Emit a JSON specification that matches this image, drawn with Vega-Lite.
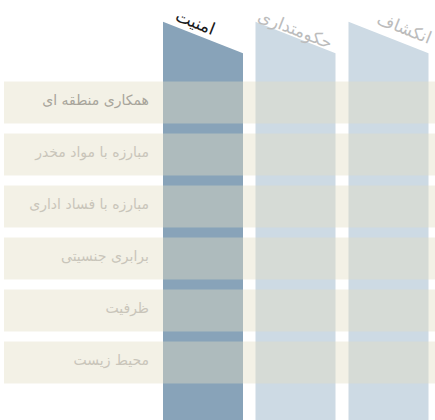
{
  "$schema": "https://vega.github.io/schema/vega-lite/v6.json",
  "width": 435,
  "height": 420,
  "autosize": {"type": "fit", "contains": "padding"},
  "padding": 0,
  "background": "white",
  "config": {"view": {"stroke": null}},
  "resolve": {"scale": {"color": "independent"}},
  "datasets": {
    "columns": [
      {"col": "امنیت", "x": 163, "top": 21.7, "bottom": 420},
      {"col": "امنیت", "x": 243, "top": 53.3, "bottom": 420},
      {"col": "حکومتداری", "x": 255.5, "top": 21.7, "bottom": 420},
      {"col": "حکومتداری", "x": 335.5, "top": 53.3, "bottom": 420},
      {"col": "انکشاف", "x": 348.5, "top": 21.7, "bottom": 420},
      {"col": "انکشاف", "x": 428.5, "top": 53.3, "bottom": 420}
    ],
    "colLabels": [
      {"col": "امنیت", "x": 195, "y": 23, "tone": "active"},
      {"col": "حکومتداری", "x": 295, "y": 30, "tone": "inactive"},
      {"col": "انکشاف", "x": 404, "y": 29, "tone": "inactive"}
    ],
    "rows": [
      {"label": "همکاری منطقه ای", "top": 81.5, "bottom": 123.5, "mid": 102.5, "left": 4, "right": 435, "lx": 149, "tone": "strong"},
      {"label": "مبارزه با مواد مخدر", "top": 133.5, "bottom": 175.5, "mid": 154.5, "left": 4, "right": 435, "lx": 149, "tone": "muted"},
      {"label": "مبارزه با فساد اداری", "top": 185.5, "bottom": 227.5, "mid": 206.5, "left": 4, "right": 435, "lx": 149, "tone": "muted"},
      {"label": "برابری جنسیتی", "top": 237.5, "bottom": 279.5, "mid": 258.5, "left": 4, "right": 435, "lx": 149, "tone": "muted"},
      {"label": "ظرفیت", "top": 289.5, "bottom": 331.5, "mid": 310.5, "left": 4, "right": 435, "lx": 149, "tone": "muted"},
      {"label": "محیط زیست", "top": 341.5, "bottom": 383.5, "mid": 362.5, "left": 4, "right": 435, "lx": 149, "tone": "muted"}
    ]
  },
  "layer": [
    {
      "data": {"name": "columns"},
      "mark": {"type": "area", "interpolate": "linear"},
      "encoding": {
        "x": {"field": "x", "type": "quantitative", "scale": {"domain": [0, 435], "nice": false, "zero": false}, "axis": null},
        "y": {"field": "top", "type": "quantitative", "stack": null, "scale": {"domain": [0, 420], "reverse": true, "nice": false, "zero": false}, "axis": null},
        "y2": {"field": "bottom"},
        "detail": {"field": "col"},
        "color": {"field": "col", "type": "nominal", "scale": {"domain": ["امنیت", "حکومتداری", "انکشاف"], "range": ["#88a3b9", "#cddae4", "#cddae4"]}, "legend": null}
      }
    },
    {
      "data": {"name": "rows"},
      "mark": {"type": "rect", "color": "#e2dec3", "opacity": 0.42},
      "encoding": {
        "x": {"field": "left", "type": "quantitative"},
        "x2": {"field": "right"},
        "y": {"field": "top", "type": "quantitative"},
        "y2": {"field": "bottom"}
      }
    },
    {
      "data": {"name": "rows"},
      "mark": {"type": "text", "align": "right", "baseline": "middle", "font": "DejaVu Sans", "fontSize": 14, "dy": -2},
      "encoding": {
        "x": {"field": "lx", "type": "quantitative"},
        "y": {"field": "mid", "type": "quantitative"},
        "text": {"field": "label"},
        "color": {"field": "tone", "type": "nominal", "scale": {"domain": ["strong", "muted"], "range": ["#a8a59b", "#c9c5ba"]}, "legend": null}
      }
    },
    {
      "data": {"name": "colLabels"},
      "mark": {"type": "text", "align": "center", "baseline": "middle", "font": "DejaVu Sans", "fontSize": 17, "angle": 21.6},
      "encoding": {
        "x": {"field": "x", "type": "quantitative"},
        "y": {"field": "y", "type": "quantitative"},
        "text": {"field": "col"},
        "fontWeight": {"field": "tone", "type": "nominal", "scale": {"domain": ["active", "inactive"], "range": ["bold", "normal"]}, "legend": null},
        "color": {"field": "tone", "type": "nominal", "scale": {"domain": ["active", "inactive"], "range": ["#1a1a1a", "#bcbcbc"]}, "legend": null}
      }
    }
  ]
}
